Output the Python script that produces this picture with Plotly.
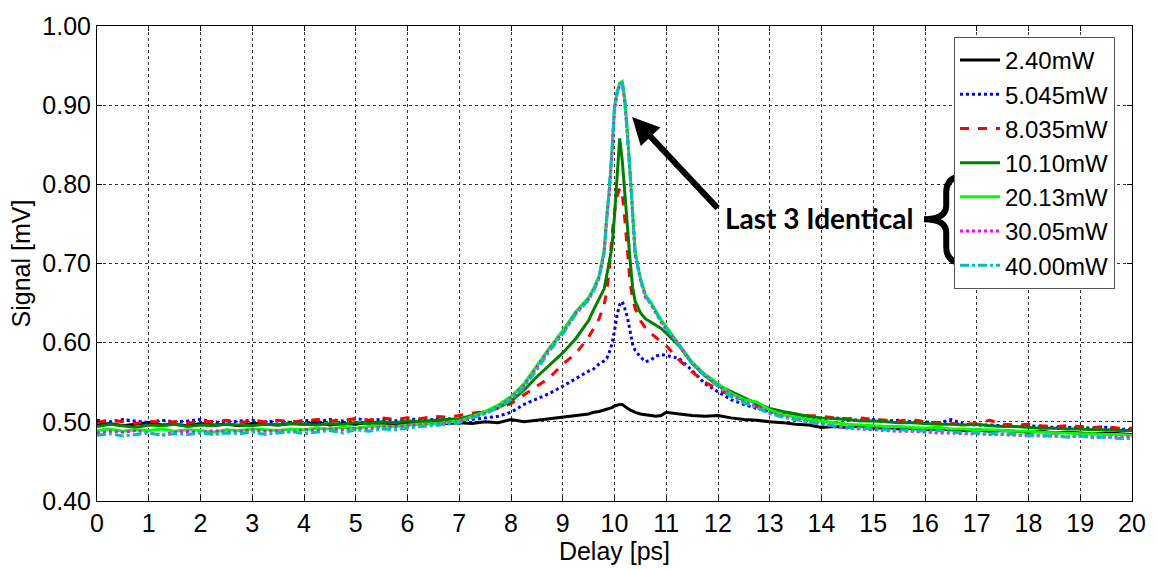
import numpy as np
import plotly.graph_objects as go

# Delay sample positions [ps]: coarse on the flat wings, fine around the peak
delay = np.concatenate([
    np.round(np.arange(0.0, 7.0001, 0.25), 2),
    np.round(np.arange(7.25, 9.5001, 0.25), 2),
    [9.6, 9.7, 9.8, 9.85, 9.9, 9.95, 10.0, 10.05, 10.1, 10.15, 10.2,
     10.25, 10.3, 10.35, 10.4, 10.5, 10.6, 10.7, 10.8, 10.9, 11.0],
    np.round(np.arange(11.25, 20.0001, 0.25), 2),
]).tolist()

labels = ["2.40mW", "5.045mW", "8.035mW", "10.10mW", "20.13mW", "30.05mW", "40.00mW"]

sig_2p40 = [
    0.496, 0.498, 0.495, 0.497, 0.499, 0.496, 0.497, 0.495, 0.498, 0.496, 0.497, 0.495, 0.498, 0.497, 0.496,
    0.498, 0.497, 0.499, 0.496, 0.498, 0.497, 0.499, 0.498, 0.497, 0.499, 0.498, 0.500, 0.498, 0.499,
    0.498, 0.500, 0.499, 0.503, 0.500, 0.502, 0.504, 0.506, 0.508, 0.510,
    0.512, 0.513, 0.515, 0.516, 0.517, 0.518, 0.520, 0.521, 0.522, 0.522, 0.519, 0.517, 0.515, 0.513, 0.512,
    0.510, 0.509, 0.508, 0.507, 0.508, 0.512,
    0.510, 0.508, 0.507, 0.508, 0.505, 0.503, 0.502, 0.500, 0.499, 0.497, 0.496, 0.493,
    0.494, 0.493, 0.495, 0.492, 0.493, 0.491, 0.492, 0.490, 0.491, 0.490, 0.489, 0.490,
    0.488, 0.489, 0.488, 0.487, 0.488, 0.486, 0.487, 0.486, 0.485, 0.486, 0.485, 0.484,
]
sig_5p045 = [
    0.502, 0.500, 0.503, 0.501, 0.499, 0.502, 0.500, 0.501, 0.503, 0.500, 0.499, 0.501, 0.502, 0.500, 0.501,
    0.499, 0.502, 0.500, 0.503, 0.501, 0.504, 0.502, 0.503, 0.501, 0.504, 0.502, 0.503, 0.504, 0.503,
    0.503, 0.505, 0.507, 0.512, 0.522, 0.529, 0.536, 0.545, 0.555, 0.564,
    0.567, 0.573, 0.577, 0.580, 0.588, 0.598, 0.615, 0.635, 0.648, 0.652, 0.643, 0.632, 0.615, 0.598, 0.590,
    0.582, 0.576, 0.578, 0.583, 0.585, 0.584,
    0.580, 0.565, 0.548, 0.538, 0.528, 0.522, 0.517, 0.513, 0.510, 0.508, 0.505, 0.504,
    0.505, 0.503, 0.502, 0.503, 0.501, 0.502, 0.500, 0.500, 0.498, 0.503, 0.497, 0.496,
    0.496, 0.495, 0.494, 0.495, 0.494, 0.493, 0.493, 0.493, 0.492, 0.493, 0.491, 0.490,
]
sig_8p035 = [
    0.499, 0.502, 0.500, 0.498, 0.501, 0.499, 0.500, 0.498, 0.501, 0.500, 0.502, 0.499, 0.501, 0.500, 0.502,
    0.500, 0.501, 0.503, 0.501, 0.502, 0.504, 0.502, 0.505, 0.503, 0.505, 0.504, 0.507, 0.506, 0.508,
    0.511, 0.513, 0.517, 0.523, 0.534, 0.546, 0.556, 0.573, 0.586, 0.607,
    0.618, 0.630, 0.648, 0.665, 0.692, 0.735, 0.765, 0.785, 0.795, 0.788, 0.755, 0.715, 0.677, 0.655, 0.643,
    0.628, 0.618, 0.612, 0.607, 0.602, 0.596,
    0.578, 0.563, 0.550, 0.541, 0.533, 0.528, 0.520, 0.516, 0.513, 0.510, 0.508, 0.507,
    0.505, 0.504, 0.505, 0.503, 0.502, 0.501, 0.503, 0.500, 0.499, 0.498, 0.497, 0.498,
    0.502, 0.497, 0.496, 0.497, 0.495, 0.494, 0.495, 0.494, 0.493, 0.494, 0.492, 0.492,
]
sig_10p10 = [
    0.494, 0.497, 0.495, 0.493, 0.496, 0.495, 0.497, 0.494, 0.496, 0.495, 0.497, 0.496, 0.495, 0.497, 0.496,
    0.498, 0.497, 0.496, 0.498, 0.497, 0.499, 0.498, 0.500, 0.499, 0.501, 0.500, 0.502, 0.503, 0.504,
    0.508, 0.513, 0.518, 0.526, 0.540, 0.557, 0.572, 0.587, 0.605, 0.628,
    0.642, 0.655, 0.668, 0.685, 0.705, 0.720, 0.760, 0.815, 0.858, 0.830, 0.785, 0.740, 0.705, 0.670, 0.652,
    0.638, 0.630, 0.626, 0.622, 0.618, 0.612,
    0.596, 0.574, 0.558, 0.546, 0.538, 0.530, 0.523, 0.517, 0.513, 0.510, 0.507, 0.505,
    0.504, 0.503, 0.501, 0.501, 0.500, 0.499, 0.499, 0.498, 0.497, 0.497, 0.496, 0.497,
    0.495, 0.494, 0.494, 0.493, 0.492, 0.492, 0.491, 0.491, 0.490, 0.490, 0.489, 0.489,
]
sig_20p13 = [
    0.489, 0.491, 0.488, 0.490, 0.489, 0.491, 0.488, 0.490, 0.489, 0.487, 0.490, 0.489, 0.491, 0.490, 0.489,
    0.491, 0.490, 0.492, 0.491, 0.493, 0.492, 0.494, 0.495, 0.494, 0.496, 0.497, 0.498, 0.499, 0.501,
    0.507, 0.513, 0.521, 0.532, 0.548, 0.571, 0.594, 0.615, 0.639, 0.657,
    0.669, 0.684, 0.716, 0.760, 0.792, 0.842, 0.898, 0.917, 0.928, 0.930, 0.906, 0.866, 0.816, 0.766, 0.714,
    0.682, 0.660, 0.651, 0.640, 0.629, 0.620,
    0.598, 0.575, 0.560, 0.548, 0.536, 0.528, 0.525, 0.515, 0.509, 0.506, 0.503, 0.501,
    0.499, 0.497, 0.496, 0.495, 0.494, 0.494, 0.493, 0.492, 0.493, 0.491, 0.491, 0.490,
    0.490, 0.489, 0.488, 0.488, 0.487, 0.486, 0.486, 0.485, 0.485, 0.484, 0.484, 0.483,
]
sig_30p05 = [
    0.486, 0.488, 0.487, 0.489, 0.486, 0.483, 0.487, 0.488, 0.486, 0.489, 0.487, 0.488, 0.490, 0.488, 0.489,
    0.487, 0.490, 0.489, 0.491, 0.490, 0.492, 0.491, 0.493, 0.494, 0.495, 0.496, 0.497, 0.498, 0.500,
    0.506, 0.511, 0.519, 0.530, 0.546, 0.569, 0.593, 0.612, 0.637, 0.655,
    0.667, 0.682, 0.714, 0.758, 0.789, 0.838, 0.895, 0.913, 0.925, 0.928, 0.903, 0.864, 0.813, 0.763, 0.711,
    0.679, 0.657, 0.649, 0.637, 0.626, 0.617,
    0.597, 0.574, 0.559, 0.546, 0.534, 0.526, 0.519, 0.512, 0.507, 0.503, 0.500, 0.497,
    0.494, 0.492, 0.491, 0.490, 0.489, 0.488, 0.488, 0.487, 0.486, 0.486, 0.485, 0.485,
    0.484, 0.484, 0.483, 0.483, 0.482, 0.482, 0.481, 0.482, 0.481, 0.481, 0.480, 0.481,
]
sig_40p00 = [
    0.483, 0.485, 0.482, 0.484, 0.486, 0.483, 0.485, 0.484, 0.486, 0.484, 0.486, 0.485, 0.487, 0.484, 0.486,
    0.488, 0.485, 0.487, 0.489, 0.486, 0.490, 0.488, 0.491, 0.490, 0.492, 0.494, 0.495, 0.497, 0.499,
    0.505, 0.510, 0.518, 0.528, 0.544, 0.566, 0.590, 0.611, 0.636, 0.654,
    0.666, 0.681, 0.713, 0.758, 0.790, 0.840, 0.897, 0.915, 0.926, 0.930, 0.905, 0.865, 0.815, 0.765, 0.712,
    0.680, 0.658, 0.650, 0.638, 0.627, 0.618,
    0.597, 0.573, 0.558, 0.545, 0.532, 0.524, 0.518, 0.510, 0.506, 0.503, 0.500, 0.498,
    0.495, 0.493, 0.492, 0.491, 0.490, 0.490, 0.489, 0.488, 0.489, 0.487, 0.486, 0.486,
    0.485, 0.485, 0.484, 0.482, 0.483, 0.482, 0.481, 0.482, 0.480, 0.481, 0.479, 0.479,
]

series = [sig_2p40, sig_5p045, sig_8p035, sig_10p10, sig_20p13, sig_30p05, sig_40p00]
colors = ["#000000", "#0000FF", "#FF0000", "#008000", "#00FF00", "#FF00FF", "#00BFBF"]
dashes = ["solid", "dot", "dash", "solid", "solid", "dot", "dashdot"]

x_ticks = list(range(0, 21))
y_ticks = [0.40, 0.50, 0.60, 0.70, 0.80, 0.90, 1.00]

FONT = "Liberation Sans, Arial, sans-serif"

fig = go.Figure()
for name, vals, col, dsh in zip(labels, series, colors, dashes):
    fig.add_trace(go.Scatter(
        x=delay, y=vals, mode="lines", name=name, legendgroup=name,
        line=dict(color=col, width=3, dash=dsh),
    ))

axis_common = dict(
    showline=True, linecolor="#000000", linewidth=1, mirror="ticks",
    ticks="inside", ticklen=5, tickcolor="#000000",
    showgrid=True, gridcolor="#333333", gridwidth=1, griddash="3px,3px",
    zeroline=False, tickfont=dict(family=FONT, size=25, color="#000000"),
)

fig.update_xaxes(range=[0, 20], tickvals=x_ticks, **axis_common,
                 title=dict(text="Delay [ps]", font=dict(family=FONT, size=25, color="#000000"), standoff=2))
fig.update_yaxes(range=[0.40, 1.00], tickvals=y_ticks, tickformat=".2f", **axis_common,
                 title=dict(text="Signal [mV]", font=dict(family=FONT, size=25, color="#000000"), standoff=4))

# Label and arrow pointing at the shared peak of the three highest powers
fig.add_annotation(x=10.34, y=0.885, ax=12.02, ay=0.768, axref="x", ayref="y",
                   xref="x", yref="y", text="", showarrow=True,
                   arrowhead=2, arrowsize=0.9, arrowwidth=6, arrowcolor="#000000")
fig.add_annotation(x=13.95, y=0.757, xref="x", yref="y", text="<b>Last 3 Identical</b>",
                   showarrow=False, font=dict(family="Lato, sans-serif", size=28, color="#000000"))

# Curly brace grouping the last three legend entries
fig.add_shape(type="path", xref="x", yref="y", layer="above",
              path="M 16.79 0.811 Q 16.41 0.811 16.41 0.790 L 16.41 0.773 "
                   "Q 16.41 0.756 15.98 0.756 Q 16.41 0.756 16.41 0.739 "
                   "L 16.41 0.721 Q 16.41 0.700 16.79 0.700",
              line=dict(color="#000000", width=6))

fig.update_layout(
    width=1158, height=569,
    margin=dict(l=97, r=25, t=19, b=64),
    paper_bgcolor="#FFFFFF", plot_bgcolor="#FFFFFF",
    legend=dict(x=0.828, y=0.977, xanchor="left", yanchor="top",
                bgcolor="#FFFFFF", bordercolor="#555555", borderwidth=1,
                font=dict(family=FONT, size=24, color="#000000"),
                tracegroupgap=0, itemwidth=40),
    showlegend=True,
)

fig.write_html("out.html")
